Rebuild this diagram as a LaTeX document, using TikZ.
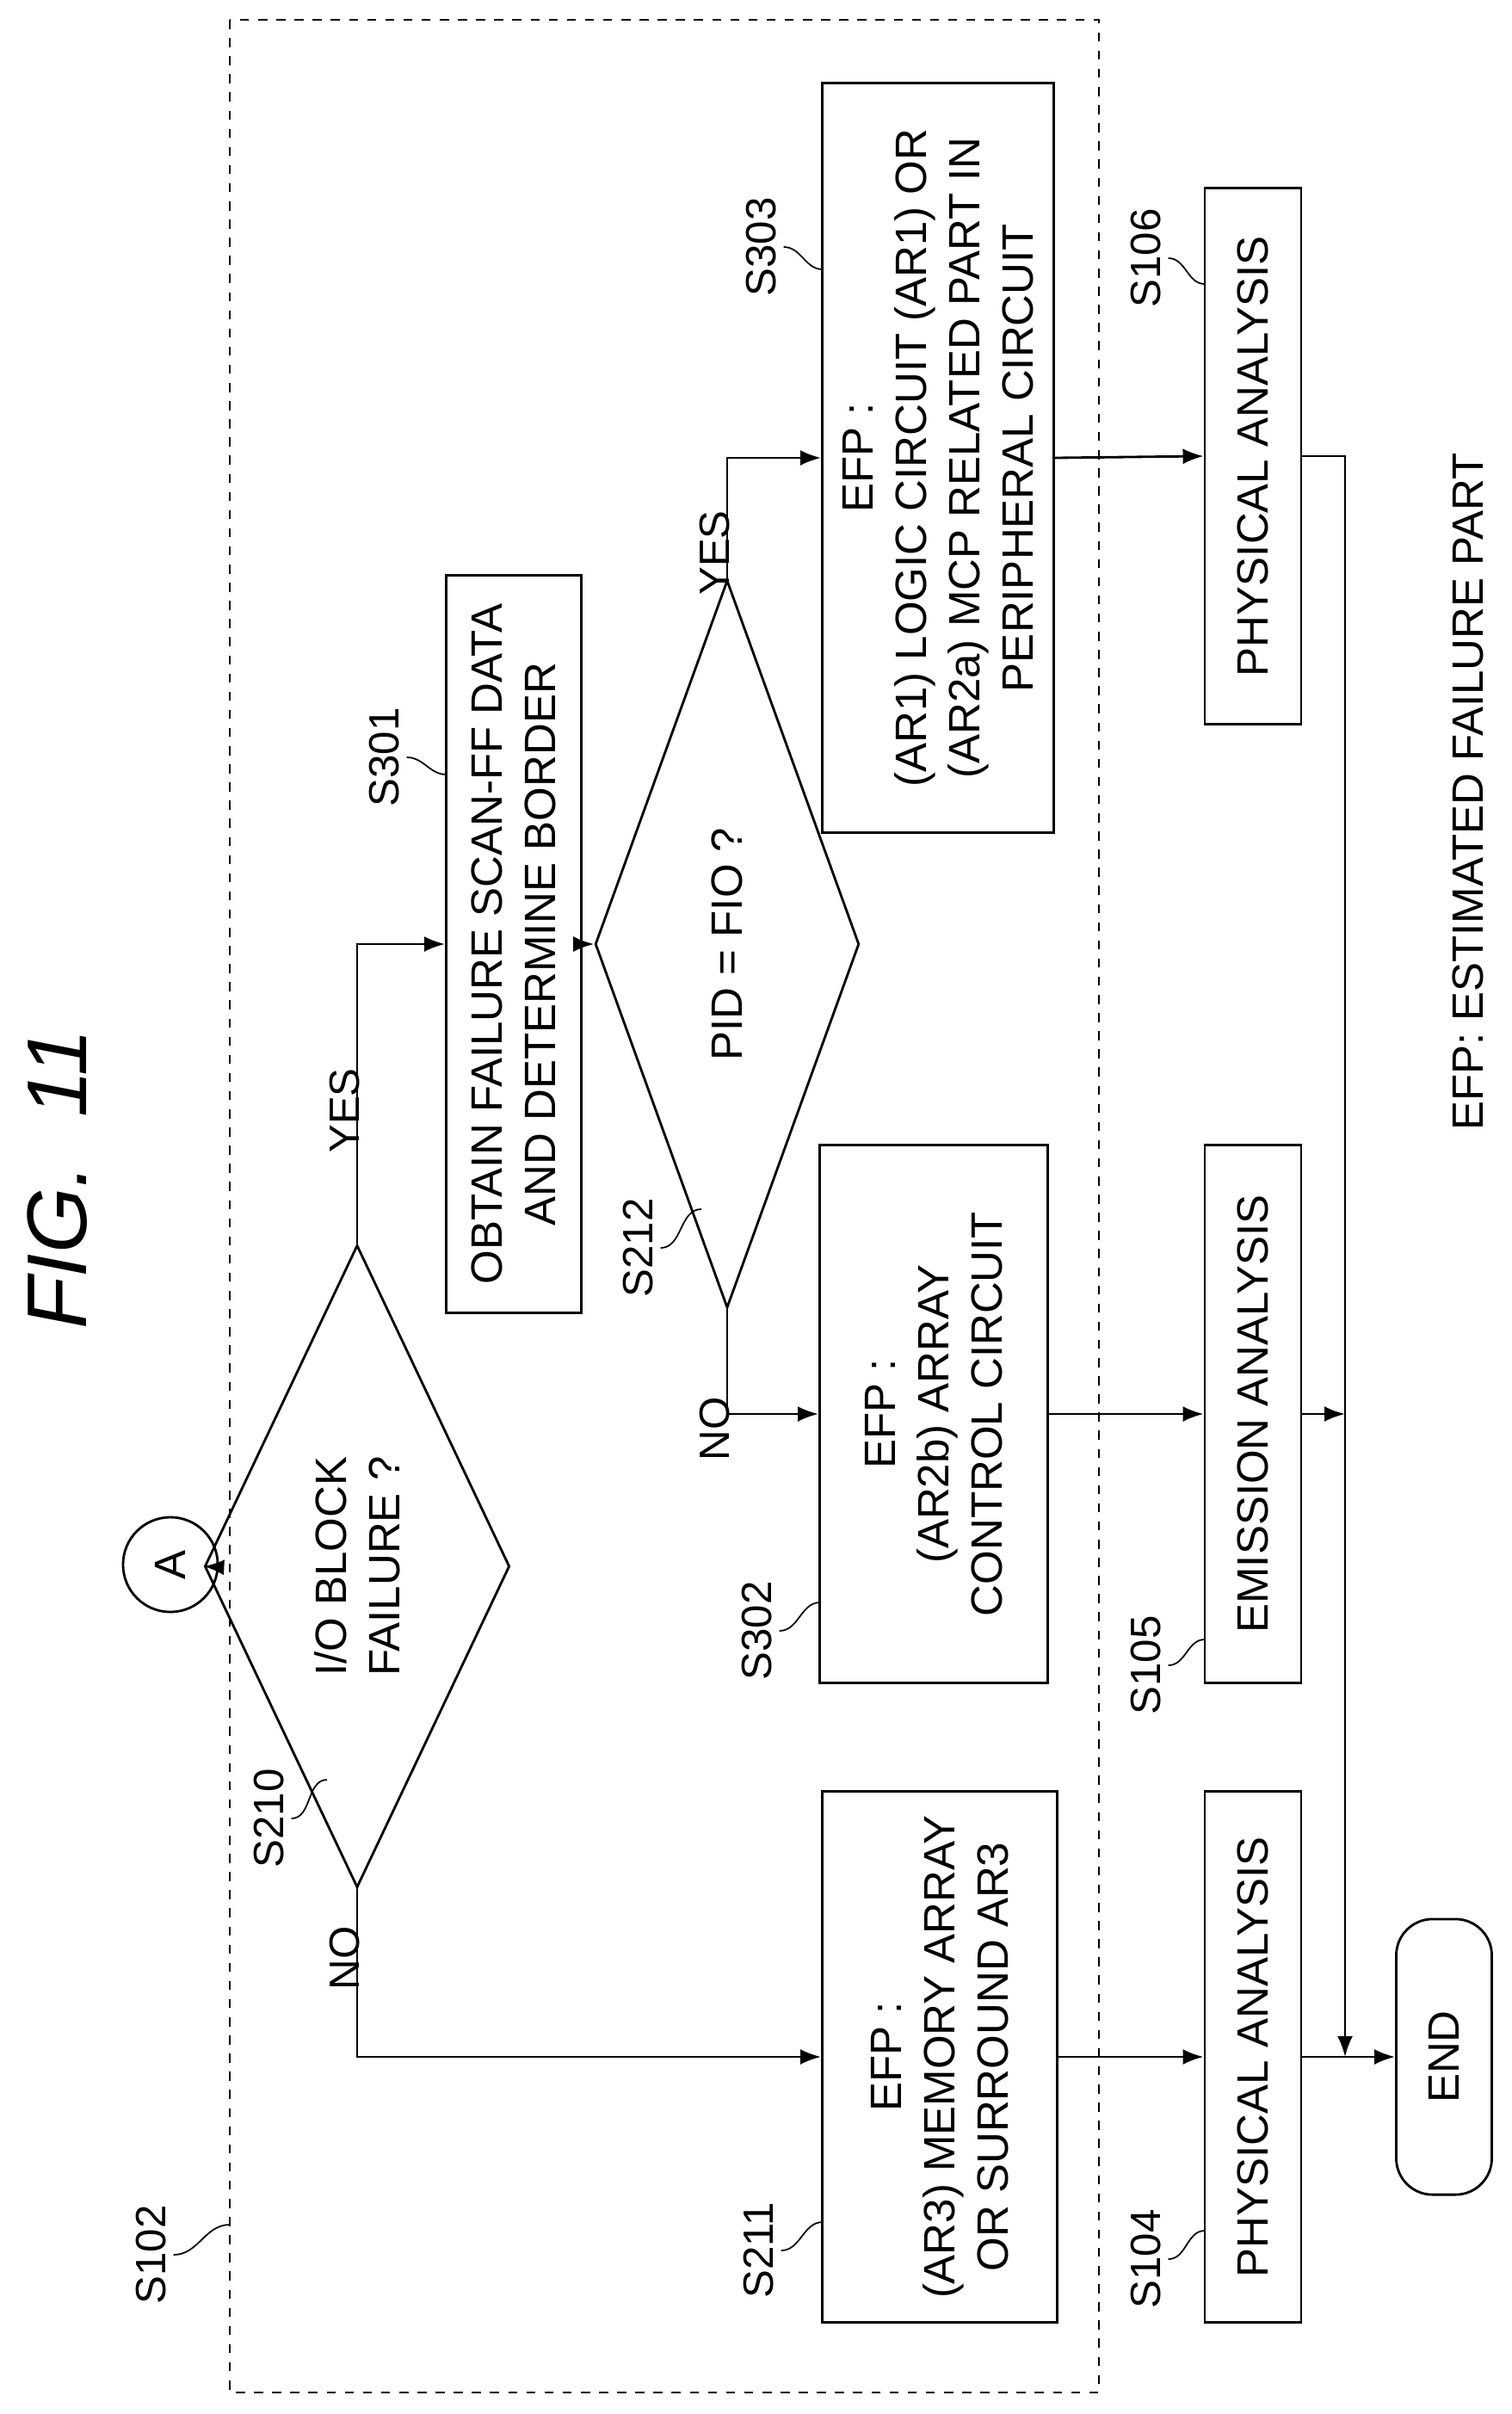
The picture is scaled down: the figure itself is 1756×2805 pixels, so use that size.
\documentclass[tikz,border=0pt]{standalone}
\usepackage{fontspec}
\setmainfont{Liberation Sans}
\usetikzlibrary{positioning}
\usetikzlibrary{shapes.geometric}
\usetikzlibrary{arrows.meta}
\tikzset{
  boxbase/.style={draw,rotate=90,align=center,inner sep=2pt,line width=0.8pt,
    font=\fontsize{14.5}{17.6}\selectfont},
  procbox/.style={boxbase,rectangle},
  decision/.style={boxbase,diamond,inner sep=0pt},
  endbox/.style={boxbase,rectangle,rounded corners=12pt},
  steptag/.style={rotate=90,font=\fontsize{14}{17}\selectfont,inner sep=1pt},
  lead/.style={line width=0.5pt},
  flow/.style={line width=0.8pt,-{Latex[length=2.4mm,width=1.8mm]}},
}
\begin{document}
\begin{tikzpicture}[x=0.01cm,y=-0.01cm]
  \useasboundingbox (0,0) rectangle (1756,2805);
  \node[rotate=90,font=\fontsize{28}{32}\selectfont\itshape] (title) at (67,1370) {FIG.~~11};
  \draw[dashed,line width=0.6pt] (267,23) rectangle (1277,2780);

  % boxes
  \node[draw,circle,line width=0.8pt,minimum size=1.1cm,inner sep=0pt,
        font=\fontsize{14.5}{17}\selectfont] (a) at (198,1818) {\rotatebox{90}{A}};
  \node[decision,minimum width=7.46cm,minimum height=2.04cm] (s210) at (415,1820) {I/O BLOCK\\FAILURE ?};
  \node[procbox,minimum width=8.57cm,minimum height=1.57cm] (s301) at (597,1097) {OBTAIN FAILURE SCAN-FF DATA\\AND DETERMINE BORDER};
  \node[decision,minimum width=8.45cm,minimum height=2.0cm] (s212) at (845,1097) {PID = FIO ?};
  \node[procbox,minimum width=8.7cm,minimum height=2.69cm] (s303) at (1090,532) {EFP :\\(AR1) LOGIC CIRCUIT (AR1) OR\\(AR2a) MCP RELATED PART IN\\PERIPHERAL CIRCUIT};
  \node[procbox,minimum width=6.25cm,minimum height=2.65cm] (s302) at (1085,1643) {EFP :\\(AR2b) ARRAY\\CONTROL CIRCUIT};
  \node[procbox,minimum width=6.17cm,minimum height=2.73cm] (s211) at (1092,2390) {EFP :\\(AR3) MEMORY ARRAY\\OR SURROUND AR3};
  \node[procbox,minimum width=6.22cm,minimum height=1.12cm] (s106) at (1456,530) {PHYSICAL ANALYSIS};
  \node[procbox,minimum width=6.25cm,minimum height=1.12cm] (s105) at (1456,1643) {EMISSION ANALYSIS};
  \node[procbox,minimum width=6.17cm,minimum height=1.12cm] (s104) at (1456,2390) {PHYSICAL ANALYSIS};
  \node[endbox,minimum width=3.2cm,minimum height=1.11cm] (end) at (1678,2390) {END};
  \coordinate (join) at (1563,2390);
  \node[steptag,font=\fontsize{14.5}{17}\selectfont] (note) at (1706,920) {EFP: ESTIMATED FAILURE PART};

  % step labels
  \node[steptag] (l102) at (176,2620) {S102};
  \node[steptag] (l210) at (313,2113) {S210};
  \node[steptag] (l301) at (447,880) {S301};
  \node[steptag] (l212) at (742,1450) {S212};
  \node[steptag] (l303) at (885,287) {S303};
  \node[steptag] (l302) at (880,1895) {S302};
  \node[steptag] (l211) at (882,2615) {S211};
  \node[steptag] (l106) at (1332,300) {S106};
  \node[steptag] (l105) at (1332,1935) {S105};
  \node[steptag] (l104) at (1332,2625) {S104};
  \coordinate (t102) at (267,2585);
  \coordinate (t210) at (380,2068);
  \coordinate (t301) at (519,900);
  \coordinate (t212) at (815,1405);
  \coordinate (t303) at (956,313);
  \coordinate (t302) at (953,1862);
  \coordinate (t211) at (956,2582);
  \coordinate (t106) at (1400,330);
  \coordinate (t105) at (1400,1905);
  \coordinate (t104) at (1400,2592);
  \foreach \n in {102,210,301,212,303,302,211,106,105,104}
    \draw[lead] (l\n.south) ++(4,0) to[out=0,in=180] (t\n);

  % flow
  \draw[flow] (a) -- (s210.north);
  \draw[flow] (s210.east) |- node[pos=0.3,left=4pt,steptag]{YES} (s301.north);
  \draw[flow] (s210.west) |- node[pos=0.1,left=4pt,steptag]{NO} (s211.north);
  \draw[flow] (s301.south) -- (s212.north);
  \draw[flow] (s212.east) |- node[pos=0.3,left=4pt,steptag]{YES} (s303.north);
  \draw[flow] (s212.west) |- node[pos=0.4,left=4pt,steptag]{NO} (s302.north);
  \draw[flow] (s303.south) -- (s106.north);
  \draw[flow] (s302.south) -- (s105.north);
  \draw[flow] (s211.south) -- (s104.north);
  \draw[flow] (s106.south) -| (join);
  \draw[flow] (s105.south) -- (s105.south -| join);
  \draw[flow] (s104.south) -- (end.north);
\end{tikzpicture}
\end{document}
